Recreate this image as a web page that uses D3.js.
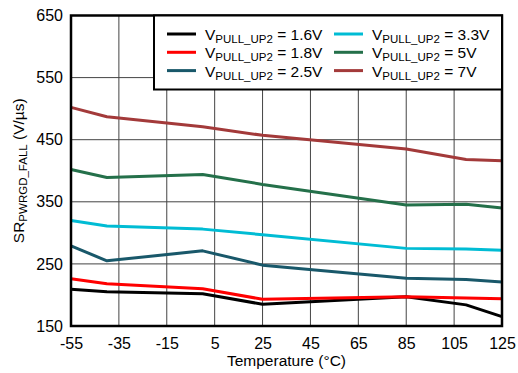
<!DOCTYPE html>
<html lang="en">
<head>
    <meta charset="utf-8">
    <title>SR PWRGD fall vs temperature</title>
    <script src="https://d3js.org/d3.v7.min.js"></script>
    <style>
        body { margin: 0; background: #fff; }
        text { font-family: "Liberation Sans", Arial, sans-serif; }
    </style>
</head>
<body>
    <svg width="518" height="373" id="mainsvg"></svg>

    <script>
        // temperatures (°C)
        const temps = [-55, -40, 0, 25, 85, 110, 125]
        const series16 = [209, 205, 202, 185, 197, 184, 165]
        const series18 = [226, 218, 210, 193, 197, 195, 194]
        const series25 = [279, 255, 271, 248, 227, 225, 221]
        const series33 = [320, 311, 306, 297, 275, 274, 272]
        const series5 = [402, 389, 394, 378, 345, 346, 340]
        const series7 = [502, 487, 471, 457, 435, 418, 416]
        const seriesNames = ['1.6V', '1.8V', '2.5V', '3.3V', '5V', '7V']
        const colors = ['#000000', '#ff0000', '#19586a', '#00bcd4', '#24704a', '#a33a3a']
        const xTicks = [-55, -35, -15, 5, 25, 45, 65, 85, 105, 125]
        const yTicks = [150, 250, 350, 450, 550, 650]

        const allSeries = [series16, series18, series25, series33, series5, series7]

        const svg = d3.select('#mainsvg')
        const margin = {top: 15.5, right: 16, bottom: 47, left: 71}
        const innerWidth = 518 - margin.left - margin.right
        const innerHeight = 373 - margin.top - margin.bottom

        const xScale = d3.scaleLinear().domain([-55, 125]).range([0, innerWidth])
        const yScale = d3.scaleLinear().domain([150, 650]).range([innerHeight, 0])

        const g = svg.append('g').attr('transform', `translate(${margin.left}, ${margin.top})`)

        // grid
        g.append('g').selectAll('line').data(xTicks.slice(1, -1)).join('line')
            .attr('x1', d => xScale(d)).attr('x2', d => xScale(d))
            .attr('y1', 0).attr('y2', innerHeight)
            .attr('stroke', '#444').attr('stroke-width', 1)
        g.append('g').selectAll('line').data(yTicks.slice(1, -1)).join('line')
            .attr('y1', d => yScale(d)).attr('y2', d => yScale(d))
            .attr('x1', 0).attr('x2', innerWidth)
            .attr('stroke', '#444').attr('stroke-width', 1)

        // axes (labels only)
        const xAxis = d3.axisBottom(xScale).tickValues(xTicks).tickSize(0).tickPadding(12)
            .tickFormat(d => String(d))
        const xg = g.append('g').attr('transform', `translate(0, ${innerHeight})`).call(xAxis)
        xg.select('.domain').remove()
        xg.selectAll('text').attr('font-size', '16px').attr('fill', '#000')
            .style('font-family', '"Liberation Sans", Arial, sans-serif')

        const yAxis = d3.axisLeft(yScale).tickValues(yTicks).tickSize(0).tickPadding(8)
            .tickFormat(d => String(d))
        const yg = g.append('g').call(yAxis)
        yg.select('.domain').remove()
        yg.selectAll('text').attr('font-size', '16px').attr('fill', '#000')
            .style('font-family', '"Liberation Sans", Arial, sans-serif')

        // data lines
        const line = d3.line()
            .x((d, i) => xScale(temps[i]))
            .y(d => yScale(d))

        allSeries.forEach((s, i) => {
            g.append('path')
                .datum(s)
                .attr('d', line)
                .attr('fill', 'none')
                .attr('stroke', colors[i])
                .attr('stroke-width', 3)
                .attr('stroke-linejoin', 'round')
        })

        // frame
        g.append('rect')
            .attr('width', innerWidth).attr('height', innerHeight)
            .attr('fill', 'none').attr('stroke', '#000').attr('stroke-width', 2.5)

        // legend
        const lg = g.append('g')
        lg.append('rect')
            .attr('x', 154 - margin.left).attr('y', 0)
            .attr('width', innerWidth - (154 - margin.left)).attr('height', 74)
            .attr('fill', '#fff').attr('stroke', '#000').attr('stroke-width', 2)

        seriesNames.forEach((name, i) => {
            const col = Math.floor(i / 3)
            const row = i % 3
            const lx = (col === 0 ? 167 : 334) - margin.left
            const ly = 34 + row * 18.3 - margin.top
            lg.append('line')
                .attr('x1', lx).attr('x2', lx + 29)
                .attr('y1', ly).attr('y2', ly)
                .attr('stroke', colors[i]).attr('stroke-width', 3)
            const t = lg.append('text')
                .attr('x', lx + 38).attr('y', ly + 6)
                .attr('font-size', '15.5px').attr('fill', '#000')
            t.append('tspan').text('V')
            t.append('tspan').text('PULL_UP2').attr('font-size', '11.5px').attr('dy', 3)
            t.append('tspan').text(' = ' + name).attr('dy', -3)
        })

        // axis titles
        svg.append('text')
            .attr('x', margin.left + innerWidth / 2).attr('y', 366)
            .attr('text-anchor', 'middle').attr('font-size', '15.5px')
            .text('Temperature (°C)')

        const yt = svg.append('text')
            .attr('transform', `translate(24, ${margin.top + innerHeight / 2}) rotate(-90)`)
            .attr('text-anchor', 'middle').attr('font-size', '15.5px')
        yt.append('tspan').text('SR')
        yt.append('tspan').text('PWRGD_FALL').attr('font-size', '11.5px').attr('dy', 3)
        yt.append('tspan').text(' (V/µs)').attr('dy', -3)
    </script>
</body>
</html>
